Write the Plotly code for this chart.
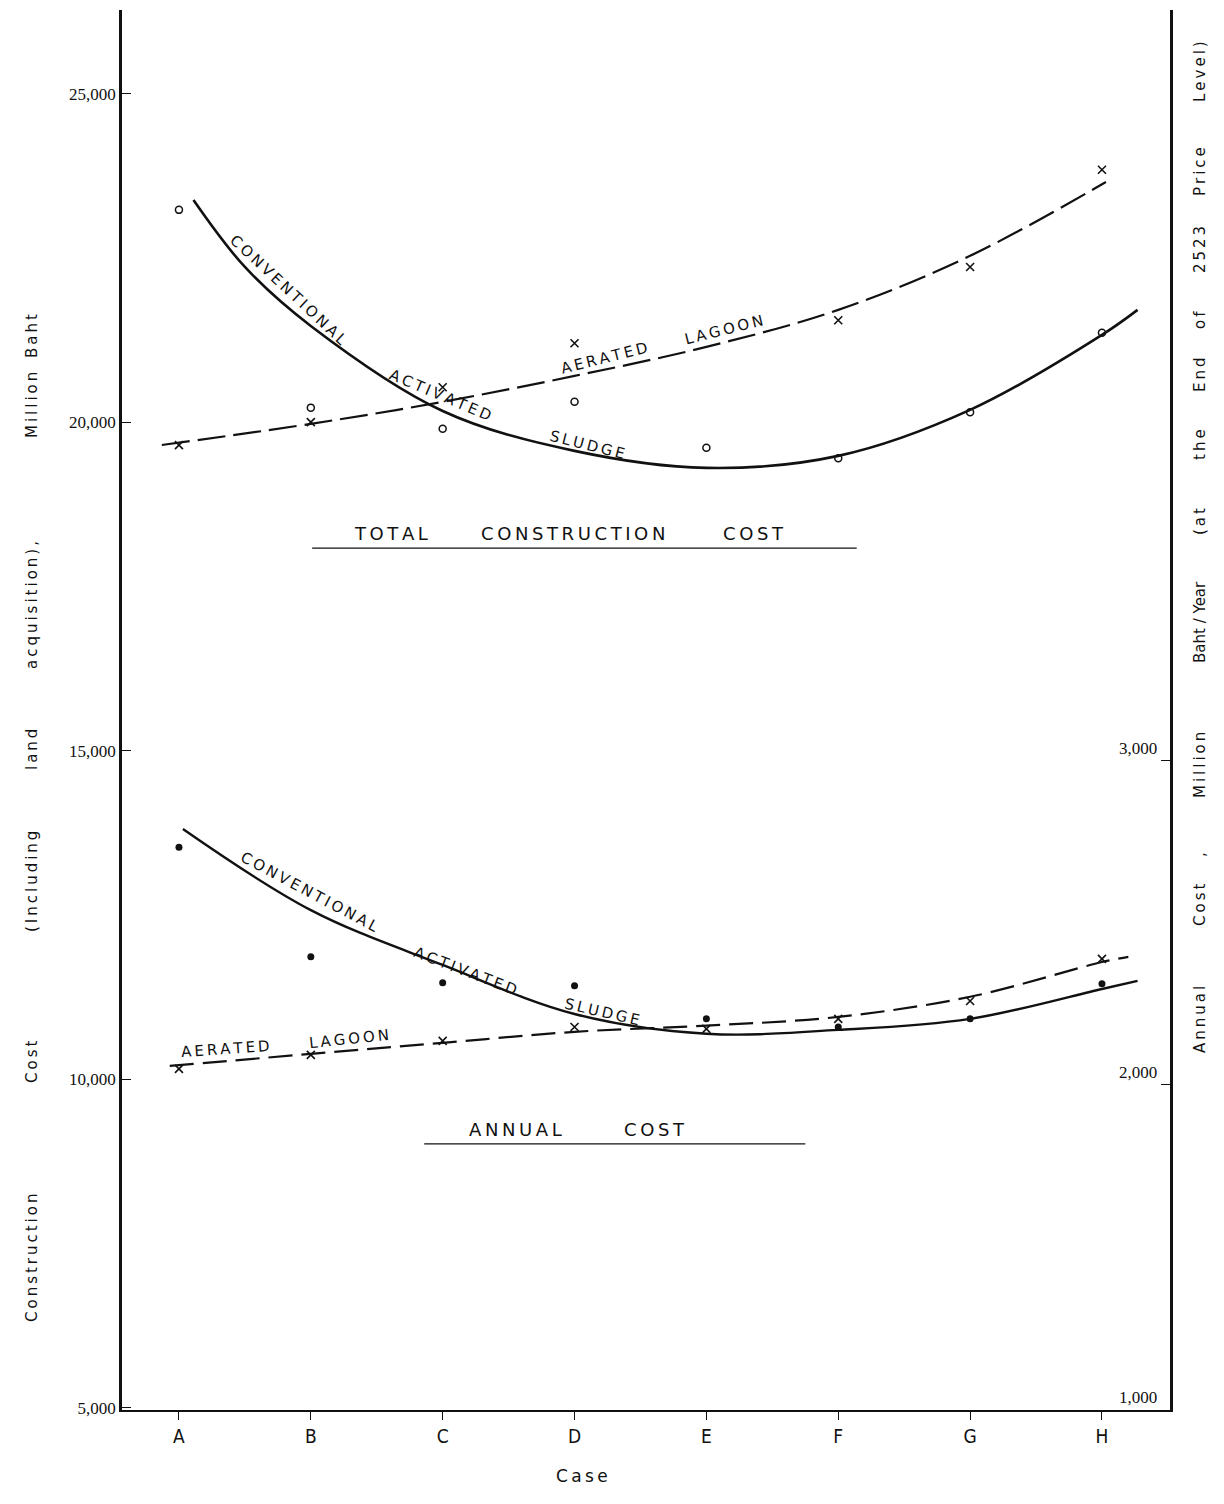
import plotly.graph_objects as go

# ---- cases (x axis) ----
cases = ["A", "B", "C", "D", "E", "F", "G", "H"]
case_pos = list(range(len(cases)))

# ---- total construction cost, million baht (left axis) ----
cas_total_pts = [23230, 20220, 19900, 20310, 19610, 19450, 20150, 21360]
lagoon_total_pts = [19650, 20000, 20530, 21200, None, 21550, 22360, 23840]

# fitted curves through the construction cost points
cas_total_fit_x = [0.11, 0.5, 1, 2, 3, 4, 5, 6, 7, 7.27]
cas_total_fit_y = [23380, 22361, 21463, 20169, 19562, 19303, 19486, 20186, 21327, 21708]
lagoon_total_fit_x = [-0.13, 1, 2, 3, 4, 5, 6, 7.03]
lagoon_total_fit_y = [19651, 19973, 20308, 20703, 21145, 21708, 22530, 23655]

# ---- annual cost, million baht / year (right axis) ----
cas_annual_pts = [2732, 2394, 2314, 2305, 2203, 2178, 2203, 2311]
lagoon_annual_pts = [2049, 2092, 2135, 2178, 2172, 2203, 2258, 2388]

cas_annual_fit_x = [0.03, 1, 2, 3, 4, 5, 6, 7, 7.27]
cas_annual_fit_y = [2788, 2538, 2369, 2218, 2157, 2169, 2203, 2295, 2320]
lagoon_annual_fit_x = [-0.07, 1, 2, 3, 4, 5, 6, 7, 7.2]
lagoon_annual_fit_y = [2058, 2095, 2129, 2163, 2182, 2209, 2271, 2378, 2394]

# ---- axis ticks ----
left_ticks = [5000, 10000, 15000, 20000, 25000]
left_tick_text = ["5,000", "10,000", "15,000", "20,000", "25,000"]
right_ticks = [1000, 2000, 3000]
right_tick_text = ["1,000", "2,000", "3,000"]

INK = "#111111"
LETTER = "DejaVu Sans"
NUM = "Liberation Serif"

fig = go.Figure()

# construction cost curves
fig.add_trace(go.Scatter(x=cas_total_fit_x, y=cas_total_fit_y, mode="lines",
                         line=dict(color=INK, width=2.6, shape="spline", smoothing=1.0)))
fig.add_trace(go.Scatter(x=lagoon_total_fit_x, y=lagoon_total_fit_y, mode="lines",
                         line=dict(color=INK, width=2.2, shape="spline", smoothing=1.0,
                                   dash="28px,8px")))
fig.add_trace(go.Scatter(x=case_pos, y=cas_total_pts, mode="markers",
                         marker=dict(symbol="circle-open", size=7, color=INK,
                                     line=dict(width=1.5, color=INK))))
fig.add_trace(go.Scatter(x=case_pos, y=lagoon_total_pts, mode="markers",
                         marker=dict(symbol="x-thin-open", size=8, color=INK,
                                     line=dict(width=1.6, color=INK))))

# annual cost curves
fig.add_trace(go.Scatter(x=cas_annual_fit_x, y=cas_annual_fit_y, mode="lines", yaxis="y2",
                         line=dict(color=INK, width=2.4, shape="spline", smoothing=1.0)))
fig.add_trace(go.Scatter(x=lagoon_annual_fit_x, y=lagoon_annual_fit_y, mode="lines", yaxis="y2",
                         line=dict(color=INK, width=2.2, shape="spline", smoothing=1.0,
                                   dash="24px,9px")))
fig.add_trace(go.Scatter(x=case_pos, y=cas_annual_pts, mode="markers", yaxis="y2",
                         marker=dict(symbol="circle", size=7, color=INK)))
fig.add_trace(go.Scatter(x=case_pos, y=lagoon_annual_pts, mode="markers", yaxis="y2",
                         marker=dict(symbol="x-thin-open", size=8, color=INK,
                                     line=dict(width=1.6, color=INK))))

ann = []


def label(text, x, y, angle=0, size=15, yref="y", family=LETTER):
    ann.append(dict(text=text, x=x, y=y, xref="x", yref=yref, textangle=angle,
                    showarrow=False, font=dict(family=family, size=size, color=INK)))


def spaced(word):
    return "\u2009".join(word)


# curve labels - construction cost
label(spaced("CONVENTIONAL"), 0.83, 22011, 43, 15)
label(spaced("ACTIVATED"), 1.98, 20413, 23, 15)
label(spaced("SLUDGE"), 3.1, 19650, 14, 15)
label(spaced("AERATED"), 3.23, 20974, -14, 15)
label(spaced("LAGOON"), 4.13, 21400, -14, 15)

# curve labels - annual cost
label(spaced("CONVENTIONAL"), 0.99, 2594, 28, 15, "y2")
label(spaced("ACTIVATED"), 2.17, 2351, 21, 15, "y2")
label(spaced("SLUDGE"), 3.21, 2225, 13, 15, "y2")
label(spaced("AERATED"), 0.35, 2111, -4, 15, "y2")
label(spaced("LAGOON"), 1.29, 2142, -6, 15, "y2")

# section headings
label(spaced("TOTAL"), 1.61, 18312, 0, 18)
label(spaced("CONSTRUCTION"), 2.99, 18312, 0, 18)
label(spaced("COST"), 4.36, 18312, 0, 18)
label(spaced("ANNUAL"), 2.55, 1862, 0, 18, "y2")
label(spaced("COST"), 3.61, 1862, 0, 18, "y2")

shapes = [
    dict(type="line", xref="x", yref="y", x0=1.01, x1=5.14, y0=18081, y1=18081,
         line=dict(color=INK, width=1.3)),
    dict(type="line", xref="x", yref="y2", x0=1.86, x1=4.75, y0=1818, y1=1818,
         line=dict(color=INK, width=1.3)),
]

# axis titles, laid out word by word with wide spacing
PLOT_L, PLOT_W, PLOT_B, PLOT_H = 122, 1048, 1410, 1400


def side_word(text, px, py, size=15):
    ann.append(dict(text=text, xref="paper", yref="paper",
                    x=(px - PLOT_L) / PLOT_W, y=(PLOT_B - py) / PLOT_H,
                    textangle=-90, showarrow=False, xanchor="center", yanchor="middle",
                    font=dict(family=LETTER, size=size, color=INK)))


left_words = [("Construction", 1258), ("Cost", 1062), ("(Including", 882), ("land", 750),
              ("acquisition),", 605), ("Million", 405), ("Baht", 336)]
for w, py in left_words:
    side_word(spaced(w), 32, py)

right_words = [("Annual", 1020), ("Cost", 905), (",", 855), ("Million", 765),
               ("Baht / Year", 622), ("(at", 522), ("the", 445), ("End", 375), ("of", 320),
               ("2523", 250), ("Price", 172), ("Level)", 72)]
for w, py in right_words:
    side_word(spaced(w) if w not in (",", "Baht / Year") else w, 1200, py)

ann.append(dict(text=spaced("Case"), xref="paper", yref="paper",
                x=(582 - PLOT_L) / PLOT_W, y=(PLOT_B - 1488) / PLOT_H,
                showarrow=False, font=dict(family=LETTER, size=17, color=INK)))

fig.update_layout(
    width=1224, height=1504,
    margin=dict(l=PLOT_L, r=1224 - PLOT_L - PLOT_W, t=10, b=1504 - PLOT_B),
    paper_bgcolor="white", plot_bgcolor="white",
    showlegend=False,
    annotations=ann, shapes=shapes,
    xaxis=dict(range=[-0.432, 7.516], tickvals=case_pos, ticktext=cases,
               showgrid=False, zeroline=False, showline=True, linecolor=INK, linewidth=2.4,
               ticks="outside", ticklen=8, tickcolor=INK, tickwidth=1.4,
               tickfont=dict(family="DejaVu Sans Condensed", size=19, color=INK)),
    yaxis=dict(range=[4964, 26272], tickvals=left_ticks, ticktext=left_tick_text,
               showgrid=False, zeroline=False, showline=True, linecolor=INK, linewidth=2.6,
               ticks="inside", ticklen=9, tickcolor=INK, tickwidth=1.4,
               tickfont=dict(family=NUM, size=17, color=INK)),
    yaxis2=dict(range=[998, 5311], tickvals=right_ticks, ticktext=right_tick_text,
                overlaying="y", side="right", anchor="x",
                showgrid=False, zeroline=False, showline=True, linecolor=INK, linewidth=2.6,
                ticks="inside", ticklen=9, tickcolor=INK, tickwidth=1.4,
                ticklabelposition="inside top", ticklabelstandoff=12,
                tickfont=dict(family=NUM, size=17, color=INK)),
)

fig.write_html("out.html")
